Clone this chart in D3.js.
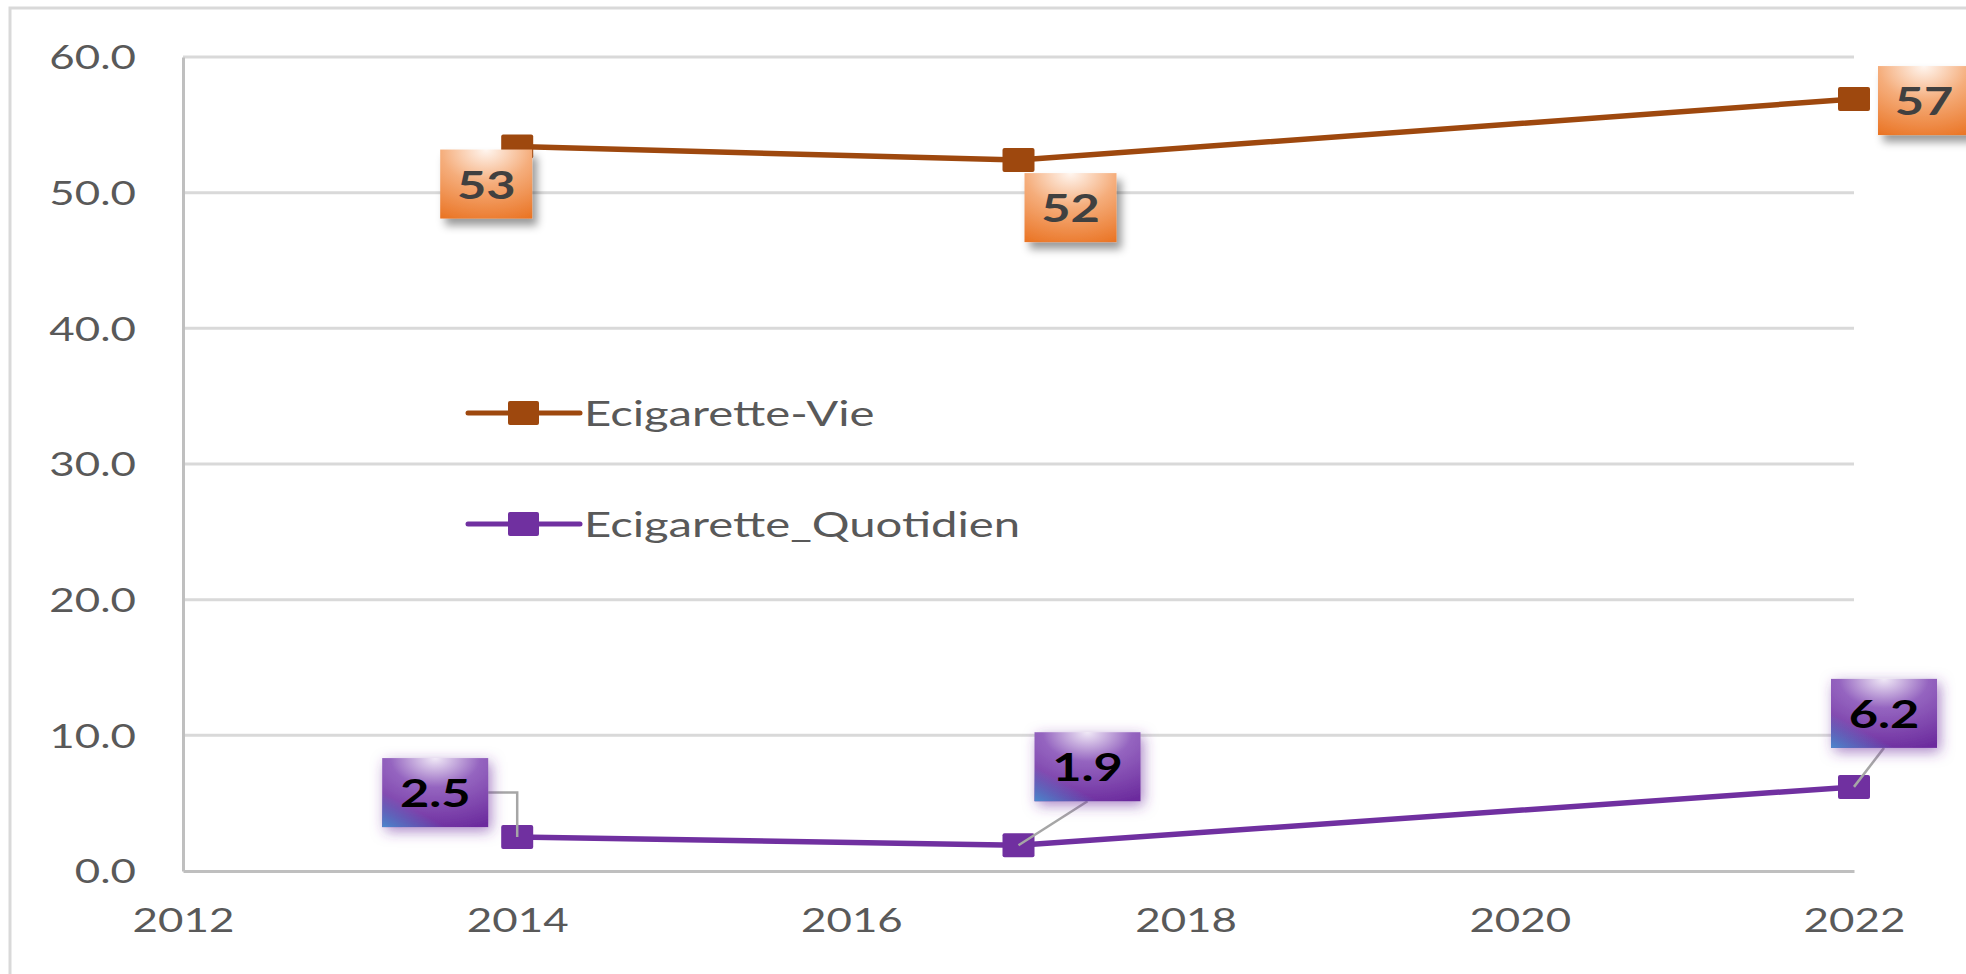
<!DOCTYPE html>
<html>
<head>
<meta charset="utf-8">
<script src="https://cdn.jsdelivr.net/npm/d3@7"></script>
<style>
  html, body { margin: 0; padding: 0; background: #fff; }
  svg { display: block; }
</style>
</head>
<body>
<div id="chart"></div>
<script>
// data
const years = [2014, 2017, 2022];
const vie = [53.4, 52.4, 56.9];
const quotidien = [2.5, 1.9, 6.2];
const seriesNames = ["Ecigarette-Vie", "Ecigarette_Quotidien"];
const yTicks = [0, 10, 20, 30, 40, 50, 60];
const xTicks = [2012, 2014, 2016, 2018, 2020, 2022];

const width = 1966, height = 974;
const SX = 1.33; // the picture is stretched sideways, so is the text
const font = "Lato, 'Open Sans', sans-serif";

const svg = d3.select("#chart").append("svg")
  .attr("width", width).attr("height", height);

const defs = svg.append("defs");

// gradients for the label boxes
const og = defs.append("radialGradient").attr("id", "gOrange")
  .attr("cx", "50%").attr("cy", "0%").attr("r", "110%").attr("fy", "0%");
og.append("stop").attr("offset", "0%").attr("stop-color", "#fff6f0");
og.append("stop").attr("offset", "45%").attr("stop-color", "#f5ad7b");
og.append("stop").attr("offset", "100%").attr("stop-color", "#ea7424");

const pg = defs.append("radialGradient").attr("id", "gPurple")
  .attr("cx", "50%").attr("cy", "0%").attr("r", "105%").attr("fy", "0%");
pg.append("stop").attr("offset", "0%").attr("stop-color", "#f1eaf7");
pg.append("stop").attr("offset", "40%").attr("stop-color", "#9565c0");
pg.append("stop").attr("offset", "100%").attr("stop-color", "#6c2c9e");

const bg = defs.append("linearGradient").attr("id", "gBlue")
  .attr("x1", "0").attr("y1", "1").attr("x2", "0.25").attr("y2", "0.7");
bg.append("stop").attr("offset", "0%").attr("stop-color", "#4a8fd0").attr("stop-opacity", 0.95);
bg.append("stop").attr("offset", "100%").attr("stop-color", "#4a8fd0").attr("stop-opacity", 0);

const sh = defs.append("filter").attr("id", "shadow")
  .attr("x", "-30%").attr("y", "-30%").attr("width", "170%").attr("height", "170%");
sh.append("feDropShadow").attr("dx", 5).attr("dy", 7).attr("stdDeviation", 4)
  .attr("flood-color", "#000").attr("flood-opacity", 0.4);

const gl = defs.append("filter").attr("id", "glow")
  .attr("x", "-40%").attr("y", "-40%").attr("width", "180%").attr("height", "180%");
gl.append("feDropShadow").attr("dx", 3).attr("dy", 4).attr("stdDeviation", 7)
  .attr("flood-color", "#7030a0").attr("flood-opacity", 0.6);

// outer frame
svg.append("rect").attr("x", 10).attr("y", 8)
  .attr("width", width + 20).attr("height", height + 20)
  .attr("fill", "none").attr("stroke", "#d9d9d9").attr("stroke-width", 3);

const x = d3.scaleLinear().domain([2012, 2022]).range([183, 1854]);
const y = d3.scaleLinear().domain([0, 60]).range([871, 57]);

// gridlines
svg.append("g").selectAll("line")
  .data(yTicks.filter(d => d > 0))
  .join("line")
  .attr("x1", x(2012)).attr("x2", x(2022))
  .attr("y1", d => y(d)).attr("y2", d => y(d))
  .attr("stroke", "#d9d9d9").attr("stroke-width", 3);

// y axis
const yAxis = svg.append("g").attr("transform", `translate(${x(2012)},0)`)
  .call(d3.axisLeft(y).tickValues(yTicks).tickFormat(d3.format(".1f")).tickSize(0).tickPadding(0));
yAxis.select(".domain").attr("stroke", "#bfbfbf").attr("stroke-width", 3);
yAxis.selectAll("text")
  .attr("x", 0).attr("dy", "0.36em")
  .attr("transform", `translate(-47,0) scale(${SX},1)`)
  .attr("fill", "#595959").style("font-family", font).style("font-size", "33px");

// x axis
const xAxis = svg.append("g").attr("transform", `translate(0,${y(0)})`)
  .call(d3.axisBottom(x).tickValues(xTicks).tickFormat(d3.format("d")).tickSize(0).tickPadding(0));
xAxis.select(".domain").attr("stroke", "#bfbfbf").attr("stroke-width", 3);
xAxis.selectAll("text")
  .attr("y", 0).attr("dy", "0.36em")
  .attr("transform", `translate(0,49) scale(${SX},1)`)
  .attr("fill", "#595959").style("font-family", font).style("font-size", "33px");

const series = [
  { name: seriesNames[0], values: vie, color: "#9e480e", fmt: d3.format(".0f"),
    fill: "url(#gOrange)", filter: "url(#shadow)", text: "#404040", boxW: 92 },
  { name: seriesNames[1], values: quotidien, color: "#7030a0", fmt: d3.format(".1f"),
    fill: "url(#gPurple)", filter: "url(#glow)", text: "#000", boxW: 106 }
];

// where each label box sits, relative to its point (left, top)
const labelOffsets = [
  [[-77, 3], [6, 13], [24, -33]],
  [[-135, -79], [16, -113], [-23, -108]]
];
const boxH = 69;

const line = d3.line().x(d => x(d[0])).y(d => y(d[1]));

series.forEach((s, si) => {
  const pts = years.map((yr, i) => [yr, s.values[i]]);
  svg.append("path").datum(pts)
    .attr("d", line).attr("fill", "none")
    .attr("stroke", s.color).attr("stroke-width", 5.5).attr("stroke-linejoin", "round");
  svg.append("g").selectAll("rect").data(pts).join("rect")
    .attr("x", d => x(d[0]) - 16).attr("y", d => y(d[1]) - 12)
    .attr("width", 32).attr("height", 24).attr("rx", 2)
    .attr("fill", s.color);
});

// leader lines for the purple labels
const q = series[1];
const lead = svg.append("g").attr("stroke", "#a6a6a6").attr("stroke-width", 2.5).attr("fill", "none");
years.forEach((yr, i) => {
  const px = x(yr), py = y(q.values[i]);
  const [dx, dy] = labelOffsets[1][i];
  const bx = px + dx, by = py + dy;
  if (i === 0) {
    lead.append("polyline").attr("points",
      `${bx + q.boxW},${by + boxH / 2} ${px},${by + boxH / 2} ${px},${py}`);
  } else {
    lead.append("line").attr("x1", bx + q.boxW / 2).attr("y1", by + boxH)
      .attr("x2", px).attr("y2", py);
  }
});

// label boxes
series.forEach((s, si) => {
  years.forEach((yr, i) => {
    const px = x(yr), py = y(s.values[i]);
    const [dx, dy] = labelOffsets[si][i];
    const g = svg.append("g").attr("transform", `translate(${px + dx},${py + dy})`);
    g.append("rect").attr("width", s.boxW).attr("height", boxH)
      .attr("fill", s.fill).attr("filter", s.filter);
    if (si === 1) {
      g.append("rect").attr("width", s.boxW).attr("height", boxH).attr("fill", "url(#gBlue)");
    }
    g.append("text")
      .attr("transform", `translate(${s.boxW / 2},${boxH / 2 + 1}) scale(${SX},1)`)
      .attr("text-anchor", "middle").attr("dy", "0.36em")
      .attr("fill", s.text)
      .style("font-family", font).style("font-weight", "bold").style("font-size", "38px")
      .text(s.fmt(s.values[i]));
  });
});

// legend
const legendY = [413, 524];
series.forEach((s, si) => {
  const g = svg.append("g").attr("transform", `translate(468,${legendY[si]})`);
  g.append("line").attr("x1", 0).attr("x2", 112)
    .attr("stroke", s.color).attr("stroke-width", 5).attr("stroke-linecap", "round");
  g.append("rect").attr("x", 40).attr("y", -12).attr("width", 31).attr("height", 24)
    .attr("rx", 2).attr("fill", s.color);
  g.append("text")
    .attr("transform", `translate(116,0) scale(1.35,1)`)
    .attr("dy", "0.36em").attr("fill", "#595959")
    .style("font-family", font).style("font-size", "35px")
    .text(s.name);
});
</script>
</body>
</html>
